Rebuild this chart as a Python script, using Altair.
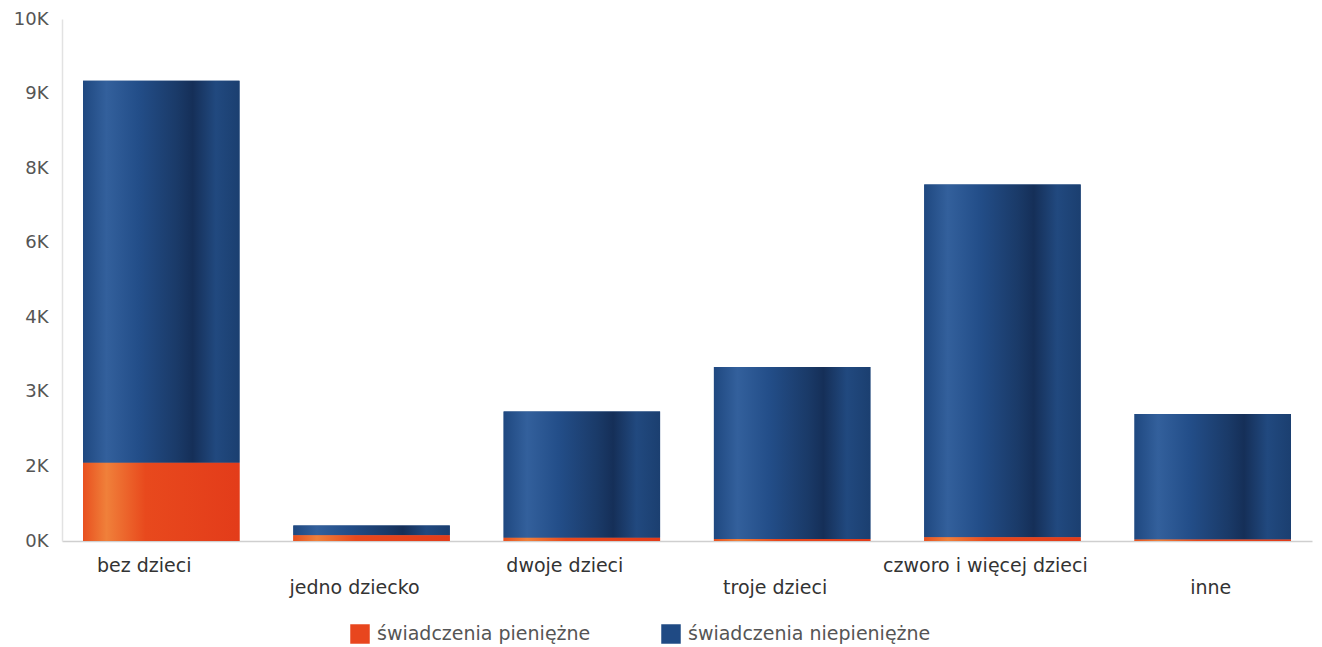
import altair as alt
import pandas as pd

categories = ["bez dzieci", "jedno dziecko", "dwoje dzieci", "troje dzieci",
              "czworo i więcej dzieci", "inne"]
series_names = ["świadczenia pieniężne", "świadczenia niepieniężne"]
pieniezne = [1500, 110, 60, 40, 70, 30]
niepieniezne = [7316, 186, 2420, 3293, 6759, 2405]
tick_values = [0, 10000 / 7, 20000 / 7, 30000 / 7, 40000 / 7, 50000 / 7, 60000 / 7, 10000]
tick_labels = ["0K", "2K", "3K", "4K", "6K", "8K", "9K", "10K"]

rows = []
for c, p, n in zip(categories, pieniezne, niepieniezne):
    rows.append({"kat": c, "seria": series_names[0], "y1": 0, "y2": p})
    rows.append({"kat": c, "seria": series_names[1], "y1": p, "y2": p + n})
df = pd.DataFrame(rows)

label_expr = "[" + ",".join("'" + t + "'" for t in tick_labels) + "][round(datum.value / (10000 / 7))]"
FONT = "DejaVu Sans"

x_enc = alt.X("kat:N", sort=categories, title=None,
              scale=alt.Scale(paddingInner=0.256, paddingOuter=0.1),
              axis=alt.Axis(labelAngle=0, ticks=False, domainColor="#cfcfcf", domainWidth=1.5,
                            labelFontSize=19, labelColor="#333333", labelFont=FONT, labelLimit=0,
                            labelPadding={"condition": {"test": "indexof(['jedno dziecko','troje dzieci','inne'], datum.value) >= 0", "value": 46}, "value": 24},
                            labelOffset={"condition": {"test": "datum.value == 'inne'", "value": -2}, "value": -17},
                            labelBaseline="middle"))
y_enc = alt.Y("y1:Q", title=None,
              scale=alt.Scale(domain=[0, 10000], nice=False),
              axis=alt.Axis(values=tick_values, labelExpr=label_expr, ticks=False, grid=False,
                            domainColor="#e2e2e2", domainWidth=1.5, labelFontSize=18,
                            labelColor="#555555", labelFont=FONT, labelPadding=14))

base = alt.Chart(df).mark_bar().encode(
    x=x_enc, y=y_enc, y2="y2:Q",
    color=alt.Color("seria:N", scale=alt.Scale(domain=series_names, range=["#e8461e", "#1f4a84"]),
                    title=None,
                    legend=alt.Legend(orient="none", legendX=288, legendY=605, direction="horizontal",
                                      symbolType="square", symbolSize=380, symbolStrokeWidth=0,
                                      labelFontSize=19, labelColor="#555555", labelFont=FONT,
                                      labelLimit=0, columnPadding=70, labelOffset=7)))

blue_grad = alt.LinearGradient(gradient="linear", x1=0, x2=1, y1=0, y2=0, stops=[
    alt.GradientStop(color="#1f4880", offset=0),
    alt.GradientStop(color="#33609c", offset=0.15),
    alt.GradientStop(color="#234e89", offset=0.35),
    alt.GradientStop(color="#1a3a68", offset=0.6),
    alt.GradientStop(color="#152f58", offset=0.7),
    alt.GradientStop(color="#21497f", offset=0.85),
    alt.GradientStop(color="#1b3f70", offset=1)])
red_grad = alt.LinearGradient(gradient="linear", x1=0, x2=1, y1=0, y2=0, stops=[
    alt.GradientStop(color="#e8501f", offset=0),
    alt.GradientStop(color="#f0803a", offset=0.15),
    alt.GradientStop(color="#e8491d", offset=0.4),
    alt.GradientStop(color="#e33c1a", offset=1)])

blue = alt.Chart(df).transform_filter(alt.datum.seria == series_names[1]).mark_bar(fill=blue_grad).encode(
    x=alt.X("kat:N", sort=categories), y="y1:Q", y2="y2:Q")
red = alt.Chart(df).transform_filter(alt.datum.seria == series_names[0]).mark_bar(fill=red_grad).encode(
    x=alt.X("kat:N", sort=categories), y="y1:Q", y2="y2:Q")

chart = alt.layer(base, blue, red).properties(
    width=1250, height=522,
    padding={"left": 5, "right": 2, "top": 2, "bottom": 0},
    background="white",
).configure_view(stroke=None)

chart.save("out.html", embed_options={"renderer": "svg", "actions": False})
